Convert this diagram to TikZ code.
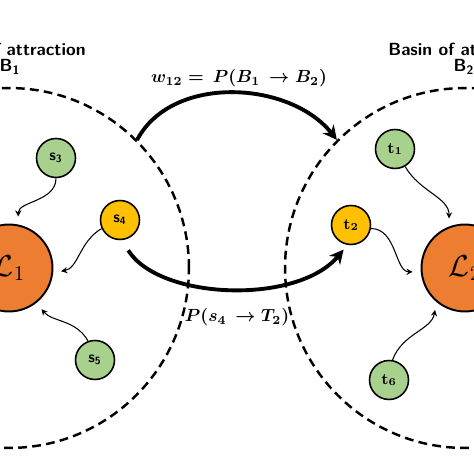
\documentclass[tikz,border=0pt]{standalone}
\usetikzlibrary{arrows.meta}
\definecolor{attorange}{HTML}{ED7D31}
\definecolor{stategreen}{HTML}{A9D18E}
\definecolor{stategold}{HTML}{FFC000}
\tikzset{
  basin/.style={circle,draw,line width=1.4pt,dash pattern=on 5pt off 3pt,minimum size=7.2cm,inner sep=0pt},
  attractor/.style={circle,draw,line width=1.1pt,fill=attorange,minimum size=1.74cm,inner sep=0pt,font=\LARGE},
  statenode/.style={circle,draw,line width=0.9pt,minimum size=0.78cm,inner sep=0pt,font=\sffamily\bfseries\small},
  basintitle/.style={align=center,font=\sffamily\bfseries\fontsize{10}{9.2}\selectfont},
  problabel/.style={font=\fontsize{10}{12}\selectfont\boldmath},
  wavy/.style={-{Stealth[length=3.5pt,width=3.5pt]},line width=0.6pt,shorten >=0.16cm},
  bigarrow/.style={-{Stealth[length=8pt,width=8pt]},line width=2.2pt}
}
\begin{document}
\begin{tikzpicture}[x=0.02cm,y=0.02cm]
\useasboundingbox (0,0) rectangle (474,474);
\clip (0,0) rectangle (474,474);
\node[basin] (B1) at (9,206) {};
\node[basin] (B2) at (465,206) {};
\node[attractor] (L1) at (9,206) {$\mathcal{L}_1$};
\node[attractor] (L2) at (465,206) {$\mathcal{L}_2$};
\node[statenode,fill=stategreen] (s3) at (56,316) {s\textsubscript{3}};
\node[statenode,fill=stategold] (s4) at (120,254) {s\textsubscript{4}};
\node[statenode,fill=stategreen] (s5) at (95,114) {s\textsubscript{5}};
\node[statenode,fill=stategreen,font=\bfseries\small] (t1) at (395,325) {t\textsubscript{1}};
\node[statenode,fill=stategold,font=\bfseries\small] (t2) at (351,249) {t\textsubscript{2}};
\node[statenode,fill=stategreen,font=\bfseries\small] (t6) at (389,94) {t\textsubscript{6}};
\draw[wavy] (s3.south) to[out=-90,in=90] (L1.78);
\draw[wavy] (s4.205) to[out=210,in=10] (L1.-6);
\draw[wavy] (s5.110) to[out=120,in=-50] (L1.-52);
\draw[wavy] (t1.-60) to[out=-60,in=90] (L2.111);
\draw[wavy] (t2.-10) to[out=0,in=180] (L2.185);
\draw[wavy] (t6.80) to[out=70,in=-100] (L2.230);
\draw[bigarrow] (B1.45) .. controls +(35,66) and +(-47,59) .. (B2.135);
\draw[bigarrow,shorten <=0.24cm,shorten >=0.12cm] (s4.-85) .. controls +(38,-60) and +(-50,-60) .. (t2.-100);
\node[problabel] (w12) at (239,396) {$w_{12} =\, P(B_1 \,\rightarrow B_2)$};
\node[problabel] (p42) at (237,157) {$P(s_4 \,\rightarrow T_2)$};
\node[basintitle] (title1) at (10,415) {Basin of attraction\\B\textsubscript{1}};
\node[basintitle] (title2) at (464,415) {Basin of attraction\\B\textsubscript{2}};
\end{tikzpicture}
\end{document}
